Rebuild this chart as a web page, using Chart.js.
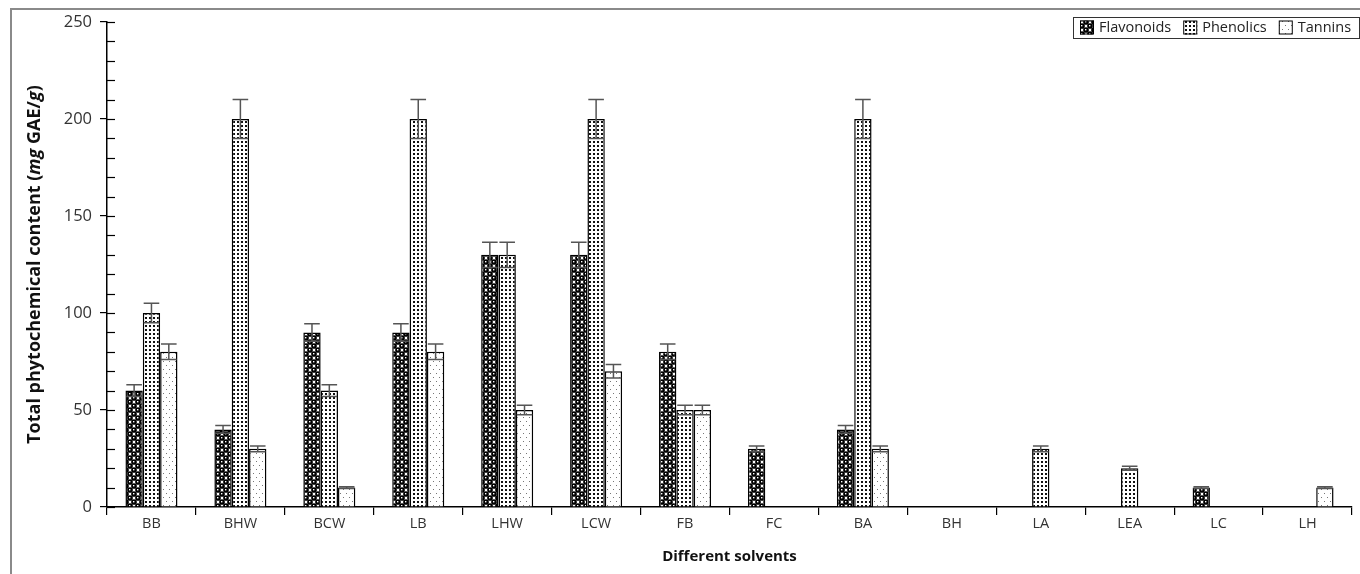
<!DOCTYPE html>
<html>
<head>
<meta charset="utf-8">
<script src="https://cdn.jsdelivr.net/npm/chart.js@4.4.0/dist/chart.umd.min.js"></script>
<style>
html,body{margin:0;padding:0;background:#fff;}
#wrap{position:relative;width:1360px;height:574px;}
</style>
</head>
<body>
<div id="wrap"><canvas id="c" width="1360" height="574"></canvas></div>
<script>
const categories = ['BB','BHW','BCW','LB','LHW','LCW','FB','FC','BA','BH','LA','LEA','LC','LH'];
const seriesNames = ['Flavonoids','Phenolics','Tannins'];
const flavonoids = [60,40,90,90,130,130,80,30,40,0,0,0,10,0];
const phenolics  = [100,200,60,200,130,200,50,0,200,0,30,20,0,0];
const tannins    = [80,30,10,80,50,70,50,0,30,0,0,0,0,10];
const flavonoidsErr = [3,2,4.5,4.5,6.5,6.5,4,1.5,2,0,0,0,0.5,0];
const phenolicsErr  = [5,10,3,10,6.5,10,2.5,0,10,0,1.5,1,0,0];
const tanninsErr    = [4,1.5,0.5,4,2.5,3.5,2.5,0,1.5,0,0,0,0,0.5];
const yTicks = [0,50,100,150,200,250];

const FONT = "'Open Sans', 'Liberation Sans', sans-serif";

function makePattern(kind){
  const t = document.createElement('canvas');
  const g = t.getContext('2d');
  if(kind===0){
    t.width=8;t.height=8;
    g.fillStyle='#fff';g.fillRect(0,0,8,8);
    g.fillStyle='#000';
    const pts=[[2,2],[6,6]];
    pts.forEach(p=>{
      for(let dx=-8;dx<=8;dx+=8)for(let dy=-8;dy<=8;dy+=8){
        g.beginPath();g.arc(p[0]+dx,p[1]+dy,2.85,0,Math.PI*2);g.fill();
      }
    });
    g.fillStyle='#fff';
    g.fillRect(1,1,1.4,1.4);g.fillRect(5,5,1.4,1.4);
  } else if(kind===1){
    t.width=4;t.height=4;
    g.fillStyle='#fff';g.fillRect(0,0,4,4);
    g.fillStyle='#111';g.fillRect(1,1,2,2);
  } else {
    t.width=6;t.height=8;
    g.fillStyle='#fff';g.fillRect(0,0,6,8);
    g.fillStyle='#777';g.fillRect(1,1,1,1);g.fillRect(4,5,1,1);
  }
  return t;
}

const canvas = document.getElementById('c');
const ctx0 = canvas.getContext('2d');
const tiles = [makePattern(0),makePattern(1),makePattern(2)];
const patterns = tiles.map(t=>ctx0.createPattern(t,'repeat'));

const values = [flavonoids, phenolics, tannins];
const errors = [flavonoidsErr, phenolicsErr, tanninsErr];

const PLOT_LEFT = 107, PLOT_RIGHT_PAD = 8, PLOT_TOP = 22, PLOT_BOTTOM = 507;

const framePlugin = {
  id:'frame',
  beforeDraw(chart){
    const c = chart.ctx;
    c.save();
    c.strokeStyle='#8a8a8a';c.lineWidth=2;
    c.beginPath();c.moveTo(11,580);c.lineTo(11,9);c.lineTo(1365,9);c.stroke();
    c.restore();
  }
};

const errorBarPlugin = {
  id:'errbars',
  afterDatasetsDraw(chart){
    const c = chart.ctx, ys = chart.scales.y;
    c.save();
    c.strokeStyle='#555';c.lineWidth=1.5;
    chart.data.datasets.forEach((ds,di)=>{
      const meta = chart.getDatasetMeta(di);
      meta.data.forEach((bar,i)=>{
        const v = ds.data[i], e = errors[di][i];
        if(!v) return;
        const top = ys.getPixelForValue(v+e), bot = ys.getPixelForValue(v-e);
        const hw = bar.width*0.45;
        c.beginPath();
        c.moveTo(bar.x,top);c.lineTo(bar.x,bot);
        c.moveTo(bar.x-hw,top);c.lineTo(bar.x+hw,top);
        c.moveTo(bar.x-hw,bot);c.lineTo(bar.x+hw,bot);
        c.stroke();
      });
    });
    c.restore();
  }
};

const axisExtrasPlugin = {
  id:'axisExtras',
  afterDraw(chart){
    const c = chart.ctx, ys = chart.scales.y, xs = chart.scales.x;
    const ax = ys.right;
    c.save();
    c.strokeStyle='#000';c.lineWidth=1.2;
    for(let v=ys.min; v<=ys.max; v+=10){
      const py = Math.round(ys.getPixelForValue(v))+0.5;
      c.beginPath();c.moveTo(ax,py);c.lineTo(ax+8,py);c.stroke();
    }
    c.restore();

    const parts = [
      ['Total phytochemical content (', false],
      ['mg', true],
      [' GAE/', false],
      ['g', true],
      [')', false]
    ];
    const size = 18;
    c.save();
    c.fillStyle='#111';
    let total = 0;
    parts.forEach(p=>{c.font=(p[1]?'italic ':'')+'bold '+size+'px '+FONT; total += c.measureText(p[0]).width;});
    const cy = (ys.top+ys.bottom)/2;
    c.translate(35, cy);
    c.rotate(-Math.PI/2);
    c.textBaseline='middle';c.textAlign='left';
    let x = -total/2;
    parts.forEach(p=>{c.font=(p[1]?'italic ':'')+'bold '+size+'px '+FONT; c.fillText(p[0],x,0); x += c.measureText(p[0]).width;});
    c.restore();

    c.save();
    c.fillStyle='#111';
    c.font='bold 15px '+FONT;
    c.textAlign='center';c.textBaseline='middle';
    c.fillText('Different solvents',(xs.left+xs.right)/2,557);
    c.restore();

    c.save();
    c.font='14.5px '+FONT;
    c.textBaseline='middle';
    const lx0 = 1073, ly0 = 17, lh = 21;
    c.fillStyle='#fff';c.fillRect(lx0,ly0,1359-lx0,lh);
    c.strokeStyle='#333';c.lineWidth=1;
    c.strokeRect(lx0+0.5,ly0+0.5,1359-lx0,lh);
    let lx = lx0+7;
    const ly = ly0+lh/2;
    chart.data.datasets.forEach((ds,di)=>{
      c.fillStyle = patterns[di];
      c.fillRect(lx, ly-7, 14, 14);
      c.strokeStyle='#000';c.lineWidth=1;
      c.strokeRect(lx+0.5, ly-6.5, 13, 13);
      c.fillStyle='#222';
      c.fillText(ds.label, lx+19, ly+0.5);
      lx += 19 + c.measureText(ds.label).width + 12;
    });
    c.restore();
  }
};

new Chart(canvas, {
  type:'bar',
  data:{
    labels: categories,
    datasets: seriesNames.map((n,i)=>({
      label:n,
      data: values[i],
      backgroundColor: patterns[i],
      borderColor:'#000',
      borderWidth:1.5,
      categoryPercentage:0.585,
      barPercentage:1.0
    }))
  },
  options:{
    responsive:false,
    animation:false,
    devicePixelRatio:1,
    layout:{padding:{left:0,right:PLOT_RIGHT_PAD,top:PLOT_TOP,bottom:0}},
    plugins:{legend:{display:false},tooltip:{enabled:false}},
    scales:{
      x:{
        afterFit(s){ s.height = 574 - PLOT_BOTTOM; },
        grid:{display:true,drawOnChartArea:false,drawTicks:true,tickLength:8,color:'#000',lineWidth:1.2,offset:true},
        border:{display:true,color:'#000',width:1.5},
        ticks:{font:{size:14.5,family:FONT},color:'#333',padding:0}
      },
      y:{
        min:0,max:250,
        afterFit(s){ s.width = PLOT_LEFT; },
        afterBuildTicks(s){ s.ticks = yTicks.map(v=>({value:v})); },
        grid:{display:true,drawOnChartArea:false,drawTicks:true,tickLength:7,color:'#000',lineWidth:1.2},
        border:{display:true,color:'#000',width:1.5},
        ticks:{font:{size:16.5,family:FONT},color:'#333',padding:8}
      }
    }
  },
  plugins:[framePlugin, errorBarPlugin, axisExtrasPlugin]
});
</script>
</body>
</html>
